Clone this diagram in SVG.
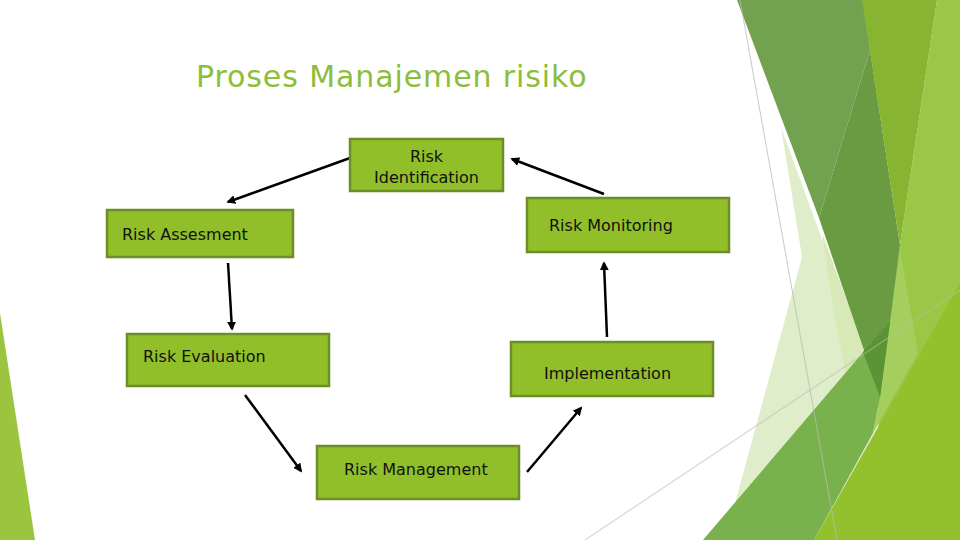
<svg xmlns="http://www.w3.org/2000/svg" width="960" height="540" viewBox="0 0 960 540">
<defs>
<style>
.box{fill:#91bf2a;stroke:#6c8e24;stroke-width:2.5}
.lbl{font-family:"DejaVu Sans",sans-serif;font-size:16px;fill:#111}
.conn{stroke:#000;stroke-width:2.5;fill:none;marker-end:url(#ah)}
.thin{stroke:#b8bdb4;stroke-width:0.8;fill:none}
</style>
<marker id="ah" viewBox="0 0 10 10" refX="8" refY="5" markerWidth="3.6" markerHeight="3.6" orient="auto" markerUnits="strokeWidth">
<path d="M0,0 L10,5 L0,10 z" fill="#000"/>
</marker>
</defs>
<rect width="960" height="540" fill="#ffffff"/>
<g id="background">
<polygon points="0,313 35,540 0,540" fill="#9cc53f"/>
<polygon points="781,127 802,257 725,540 900,540 878,392" fill="#e0edcb"/>
<polygon points="822,233 866,352 845,372 832,300" fill="#d6e9b6"/>
<polygon points="900,245 937,0 960,0 960,540 880,540 878,392" fill="#9bc747"/>
<polygon points="703,540 865,350 880,397 873,433 814,540" fill="#79b14c"/>
<polygon points="900,250 918,353 873,433 880,397" fill="#a4ce5e"/>
<polygon points="737,0 863,0 870,50 819,218" fill="#72a24f"/>
<polygon points="870,50 900,245 880,397 819,218" fill="#6a9a41"/>
<polygon points="863,352 890,322 880,397" fill="#5a9434"/>
<polygon points="862,0 937,0 900,245" fill="#87b532"/>
<polygon points="960,283 960,540 814,540" fill="#93c12d"/>
<line class="thin" x1="740" y1="0" x2="837" y2="540"/>
<line class="thin" x1="585" y1="540" x2="960" y2="290"/>
</g>
<text x="196" y="87" font-family="DejaVu Sans, sans-serif" font-size="30" letter-spacing="0.9" fill="#8cbd3b">Proses Manajemen risiko</text>
<g id="connectors">
<line class="conn" x1="350" y1="158" x2="228" y2="202"/>
<line class="conn" x1="604" y1="194" x2="512" y2="159"/>
<line class="conn" x1="228" y1="263" x2="232" y2="329"/>
<line class="conn" x1="245" y1="395" x2="301" y2="471"/>
<line class="conn" x1="527" y1="472" x2="581" y2="408"/>
<line class="conn" x1="607" y1="337" x2="604" y2="263"/>
</g>
<g id="n-identification">
<rect class="box" x="350" y="139" width="153" height="52"/>
<text class="lbl" x="426.5" y="162" text-anchor="middle">Risk</text>
<text class="lbl" x="426.5" y="183" text-anchor="middle">Identification</text>
</g>
<g id="n-monitoring">
<rect class="box" x="527" y="198" width="202" height="54"/>
<text class="lbl" x="549" y="231">Risk Monitoring</text>
</g>
<g id="n-assesment">
<rect class="box" x="107" y="210" width="186" height="47"/>
<text class="lbl" x="122" y="240">Risk Assesment</text>
</g>
<g id="n-evaluation">
<rect class="box" x="127" y="334" width="202" height="52"/>
<text class="lbl" x="143" y="362">Risk Evaluation</text>
</g>
<g id="n-implementation">
<rect class="box" x="511" y="342" width="202" height="54"/>
<text class="lbl" x="544" y="379">Implementation</text>
</g>
<g id="n-management">
<rect class="box" x="317" y="446" width="202" height="53"/>
<text class="lbl" x="344" y="475">Risk Management</text>
</g>
</svg>
